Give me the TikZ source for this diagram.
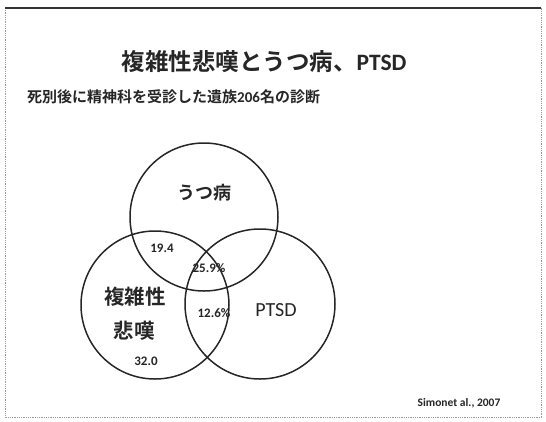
\documentclass[tikz,border=0pt]{standalone}
\usepackage{fontspec}
\setmainfont{Carlito}
\newfontfamily\jp{Noto Sans CJK JP}[BoldFont={* Bold}]
\begin{document}
\begin{tikzpicture}[x=1pt,y=-1pt,
  venn/.style={draw=black!85, line width=1.5pt},
  jptext/.style={text=black!85, inner sep=0pt},
  num/.style={font=\fontsize{13}{15}\selectfont\bfseries, text=black!85, inner sep=0pt}]
\useasboundingbox (0,0) rectangle (546,421);
% frame
\draw[black!40, densely dotted, line width=0.8pt] (5,8) -- (5,417) -- (541,417) -- (541,8);
\draw[black!80, line width=1.2pt] (5,8) -- (541,8);
% titles
\node[jptext, font=\jp\bfseries\fontsize{23.5}{28}\selectfont] (title) at (264,62) {複雑性悲嘆とうつ病、{\rmfamily PTSD}};
\node[jptext, font=\jp\bfseries\fontsize{15}{18}\selectfont, anchor=west] (sub) at (27,97) {死別後に精神科を受診した遺族{\rmfamily\bfseries 206}名の診断};
% circles
\node[venn, circle, minimum size=148pt, inner sep=0pt] (dep) at (204,217) {};
\node[venn, circle, minimum size=148pt, inner sep=0pt] (cg) at (155,305) {};
\node[venn, circle, minimum size=150pt, inner sep=0pt] (ptsd) at (260,304) {};
% labels
\node[jptext, font=\jp\bfseries\fontsize{18}{21}\selectfont] (ldep) at (204,193) {うつ病};
\node[jptext, font=\jp\bfseries\fontsize{20.5}{24}\selectfont] (lcg1) at (135,297) {複雑性};
\node[jptext, font=\jp\bfseries\fontsize{20.5}{24}\selectfont] (lcg2) at (134,331) {悲嘆};
\node[jptext, font=\rmfamily\fontsize{20}{24}\selectfont] (lptsd) at (276,310) {PTSD};
\node[num] (n194) at (162,248) {19.4};
\node[num] (n259) at (209,268) {25.9\%};
\node[num] (n320) at (146,361) {32.0};
\node[num] (n126) at (214,313) {12.6\%};
\node[font=\fontsize{11.5}{13}\selectfont\bfseries, text=black!85, inner sep=0pt] (cite) at (459,403) {Simonet al., 2007};
\end{tikzpicture}
\end{document}
